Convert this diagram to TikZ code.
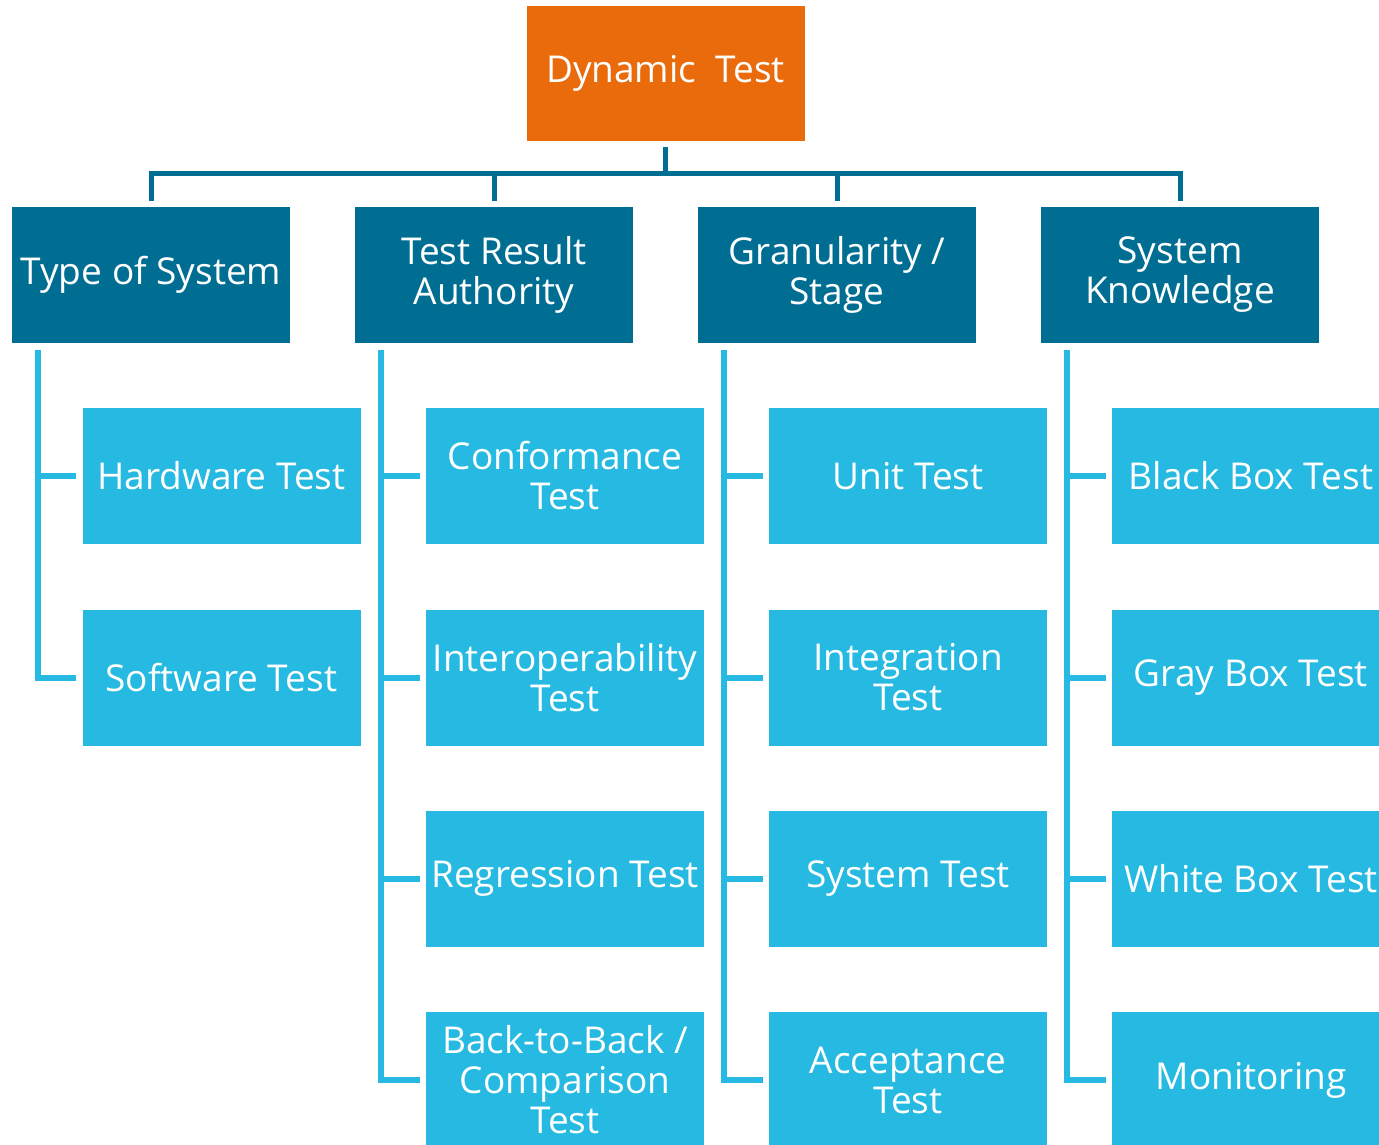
\documentclass[tikz,border=0pt]{standalone}
\usepackage{fontspec}
\setmainfont{Open Sans}
\usetikzlibrary{calc}
\definecolor{orangebox}{HTML}{EA6B0C}
\definecolor{darkbox}{HTML}{006E93}
\definecolor{lightbox}{HTML}{26B9E1}
\tikzset{
  base/.style={draw=none, text=white, align=center, minimum width=278pt, inner sep=0pt,
    font=\fontsize{37}{40}\selectfont},
  topbox/.style={base, fill=orangebox, minimum height=135pt},
  catbox/.style={base, fill=darkbox, minimum height=136pt},
  leafbox/.style={base, fill=lightbox, minimum height=136pt},
  trunk/.style={draw=darkbox, line width=5pt, miter limit=10},
  branch/.style={draw=lightbox, line width=6pt}
}
\begin{document}
\begin{tikzpicture}[x=1pt,y=-1pt]
\useasboundingbox (0,0) rectangle (1379,1144);
\clip (0,0) rectangle (1379,1144);
\fill[white] (0,0) rectangle (1379,1144);
\node[topbox] (top) at (665.5,73.5) {Dynamic\ \ Test};
\node[catbox] (c1) at (151,275) {Type of System};
\node[catbox] (c2) at (494,275) {Test Result\\Authority};
\node[catbox] (c3) at (837,275) {Granularity /\\Stage};
\node[catbox] (c4) at (1180,275) {System\\Knowledge};
% leaves
\node[leafbox] (l11) at (221.5,476) {Hardware Test};
\node[leafbox] (l12) at (221.5,677.5) {Software Test};
\node[leafbox] (l21) at (565,476) {Conformance\\Test};
\node[leafbox] (l22) at (565,677.5) {Interoperability\\Test};
\node[leafbox] (l23) at (565,878.5) {Regression Test};
\node[leafbox] (l24) at (565,1080) {Back-to-Back /\\Comparison\\Test};
\node[leafbox] (l31) at (908,476) {Unit Test};
\node[leafbox] (l32) at (908,677.5) {Integration\\Test};
\node[leafbox] (l33) at (908,878.5) {System Test};
\node[leafbox] (l34) at (908,1080) {Acceptance\\Test};
\node[leafbox] (l41) at (1251,476) {Black Box Test};
\node[leafbox] (l42) at (1251,677.5) {Gray Box Test};
\node[leafbox] (l43) at (1251,878.5) {White Box Test};
\node[leafbox] (l44) at (1251,1080) {Monitoring};
% trunk connectors
\coordinate (bus) at (0,173);
\draw[trunk] ($(top.south)+(0,6)$) -- (top.south |- bus);
\draw[trunk] ($(c1.north)+(0,-6)$) -- (c1.north |- bus) -- (c4.north |- bus) -- ($(c4.north)+(0,-6)$);
\draw[trunk] (c2.north |- bus) -- ($(c2.north)+(0,-6)$);
\draw[trunk] (c3.north |- bus) -- ($(c3.north)+(0,-6)$);
% branch connectors
\foreach \c/\n in {1/2,2/4,3/4,4/4}{
  \coordinate (s\c) at ($(c\c.south west)+(26,7)$);
  \draw[branch] (s\c) |- ($(l\c\n.west)+(-6,0)$);
  \foreach \k in {1,...,\n}{
    \draw[branch] (s\c |- l\c\k.west) -- ($(l\c\k.west)+(-6,0)$);
  }
}
\end{tikzpicture}
\end{document}
